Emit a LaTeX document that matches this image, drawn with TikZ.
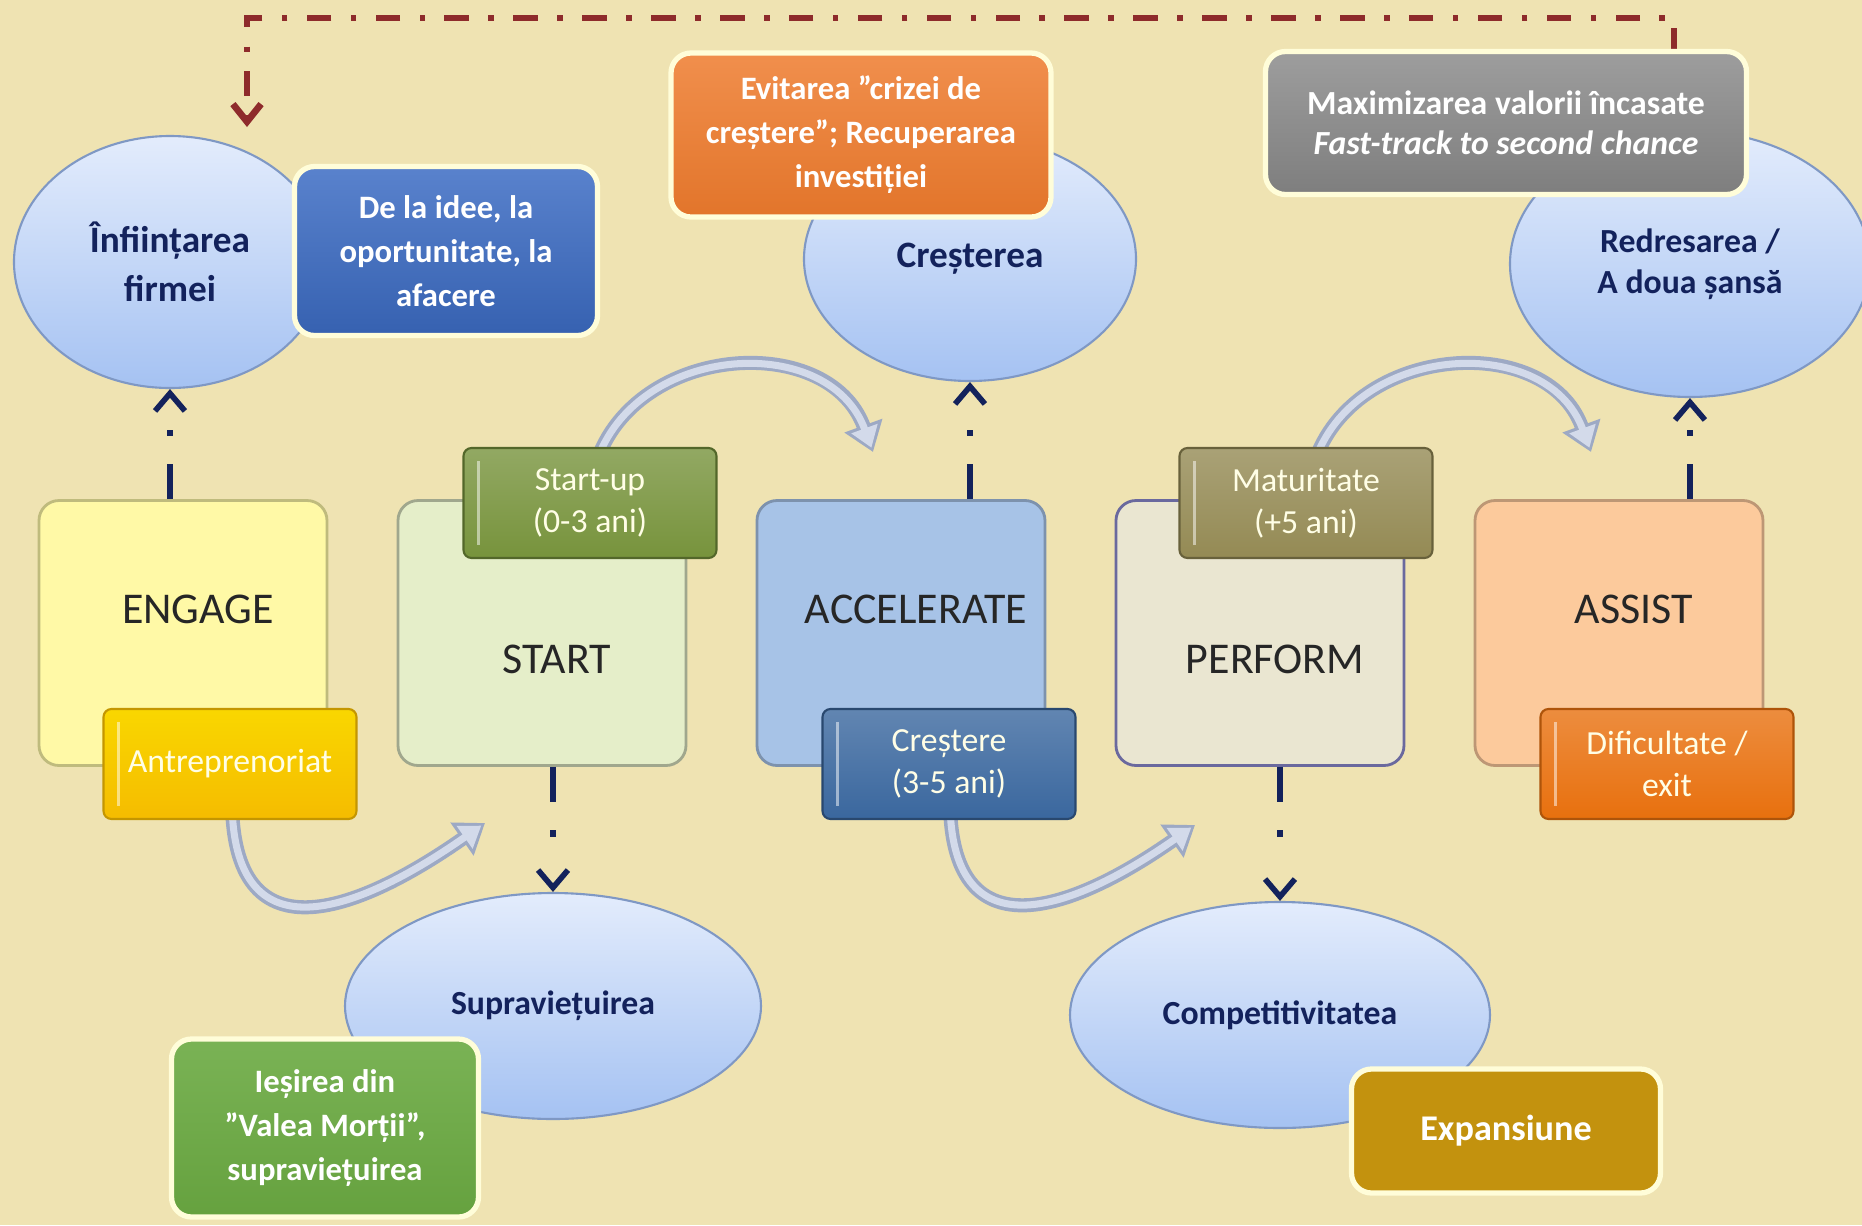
\documentclass[tikz,border=0pt]{standalone}
\usepackage{fontspec}
\setmainfont{Carlito}
\usetikzlibrary{shapes.geometric,arrows.meta,calc}

\definecolor{bgC}{HTML}{EFE3B2}
\definecolor{navyC}{HTML}{13225C}
\definecolor{backC}{HTML}{8E2B2B}
\definecolor{arcOut}{HTML}{9DA9C4}
\definecolor{arcIn}{HTML}{D3DAEA}
\definecolor{ellTop}{HTML}{E3ECFC}
\definecolor{ellBot}{HTML}{A5C2F2}
\definecolor{ellEdge}{HTML}{7F98C4}
\definecolor{engageC}{HTML}{FFF9A6}
\definecolor{startC}{HTML}{E5EEC9}
\definecolor{accelC}{HTML}{A7C3E7}
\definecolor{perfC}{HTML}{EAE6D1}
\definecolor{assistC}{HTML}{FCCA9C}
\definecolor{antrC}{HTML}{F5BC00}
\definecolor{startupC}{HTML}{77933C}
\definecolor{crestC}{HTML}{3A679E}
\definecolor{maturC}{HTML}{948A54}
\definecolor{dificC}{HTML}{E8700E}
\definecolor{ideaC}{HTML}{3C6CC4}
\definecolor{evitC}{HTML}{EE7B2D}
\definecolor{maximC}{HTML}{8C8C8C}
\definecolor{iesireC}{HTML}{6BAA42}
\definecolor{expansC}{HTML}{C3920E}

\tikzset{
  stage/.style={rounded corners=2mm, minimum width=28.8mm, minimum height=26.5mm, line width=0.8pt},
  stagetxt/.style={font=\fontsize{12.5}{15}\selectfont, text=black!85},
  tab/.style={rounded corners=0.8mm, minimum width=25.3mm, minimum height=11mm, align=center,
    text=white!90!yellow, font=\fontsize{9.6}{11.8}\selectfont, line width=0.6pt},
  goal/.style={ellipse, draw=ellEdge, line width=0.6pt, top color=ellTop, bottom color=ellBot,
    align=center, text=navyC, inner sep=0pt, font=\bfseries\fontsize{10.6}{14}\selectfont},
  small goal/.style={goal, font=\bfseries\fontsize{9.6}{11.8}\selectfont},
  note/.style={rounded corners=2mm, draw=white!85!yellow, line width=1.5pt, align=center,
    text=white, font=\bfseries\fontsize{9.3}{12.5}\selectfont},
  lifeline/.style={navyC, line width=1.6pt, dash pattern=on 10pt off 8pt on 1.8pt off 40pt,
    -{Straight Barb[length=5pt,width=8.5pt]}},
  backline/.style={backC, line width=1.9pt, dash pattern=on 7pt off 5.5pt on 1.6pt off 5.5pt,
    -{Straight Barb[length=5pt,width=8pt]}},
  flowout/.style={arcOut, line width=4pt, -{Triangle[length=8pt,width=11pt]}},
  flowin/.style={arcIn, line width=2pt, shorten >=1.3pt, -{Triangle[length=5.8pt,width=7.6pt]}}
}

\begin{document}
\begin{tikzpicture}[x=0.1mm,y=0.1mm]
\fill[bgC] (0,0) rectangle (1862,-1225);
\useasboundingbox (0,0) rectangle (1862,-1225);

\coordinate (back-start) at (1674,-53);
\coordinate (back-end) at (247,-127);
\draw[backline] (back-start) -- ++(0,35) -| (back-end);

\coordinate (flow1-a) at (232,-800);
\coordinate (flow1-b) at (485,-823);
\coordinate (flow2-a) at (594,-470);
\coordinate (flow2-b) at (873,-452);
\coordinate (flow3-a) at (950,-800);
\coordinate (flow3-b) at (1195,-825);
\coordinate (flow4-a) at (1312,-470);
\coordinate (flow4-b) at (1591,-452);
\foreach \k/\o/\i/\l in {1/-90/215/1.6, 2/75/110/1.2, 3/-90/215/1.6, 4/75/110/1.2} {
  \draw[flowout] (flow\k-a) to[out=\o, in=\i, looseness=\l] (flow\k-b);
  \draw[flowin] (flow\k-a) to[out=\o, in=\i, looseness=\l] (flow\k-b);
}

\node[stage, fill=engageC, draw=engageC!75!black] (engage) at (183,-633) {};
\node[stage, fill=startC, draw=startC!70!black] (start) at (542,-633) {};
\node[stage, fill=accelC, draw=accelC!75!black] (accel) at (901,-633) {};
\node[stage, fill=perfC, draw=perfC!65!blue!70!black] (perform) at (1260,-633) {};
\node[stage, fill=assistC, draw=assistC!75!black] (assist) at (1619,-633) {};
\foreach \n/\t/\dy in {engage/ENGAGE/24, start/START/-26, accel/ACCELERATE/24, perform/PERFORM/-26, assist/ASSIST/24}
  \node[stagetxt] (\n-txt) at ($(\n)+(15,\dy)$) {\t};

\node[tab, top color=antrC!60!yellow, bottom color=antrC, draw=antrC!80!black] (antr) at (230,-764) {Antreprenoriat};
\node[tab, top color=startupC!80!white, bottom color=startupC, draw=startupC!70!black] (startup) at (590,-503) {Start-up\\(0-3 ani)};
\node[tab, top color=crestC!80!white, bottom color=crestC, draw=crestC!70!black] (crestT) at (949,-764) {Creștere\\(3-5 ani)};
\node[tab, top color=maturC!80!white, bottom color=maturC, draw=maturC!70!black] (matur) at (1306,-503) {Maturitate\\(+5 ani)};
\node[tab, top color=dificC!80!white, bottom color=dificC, draw=dificC!75!black] (dific) at (1667,-764) {Dificultate /\\exit};
\foreach \t in {antr,startup,crestT,matur,dific}
  \draw[white, opacity=0.5, line width=0.8pt] ($(\t.north west)+(16,-14)$) -- ($(\t.south west)+(16,14)$);

\node[goal, minimum width=31.2mm, minimum height=25.2mm] (firm) at (170,-262) {Înființarea\\firmei};
\node[goal, minimum width=33.2mm, minimum height=24.4mm] (crestE) at (970,-259) {Creșterea};
\node[small goal, minimum width=36mm, minimum height=26.6mm] (redres) at (1690,-264) {Redresarea /\\A doua șansă};
\node[small goal, minimum width=41.6mm, minimum height=22.6mm] (surv) at (553,-1006) {Supraviețuirea};
\node[small goal, minimum width=42mm, minimum height=22.6mm] (compet) at (1280,-1015) {Competitivitatea};

\node[note, top color=ideaC!85!white, bottom color=ideaC!90!black, minimum width=30.3mm, minimum height=16.9mm] (idea) at (446,-251) {De la idee, la\\oportunitate, la\\afacere};
\node[note, top color=evitC!85!white, bottom color=evitC!95!black, minimum width=38mm, minimum height=16.4mm] (evit) at (861,-135) {Evitarea ”crizei de\\creștere”; Recuperarea\\investiției};
\node[note, top color=maximC!85!white, bottom color=maximC!90!black, minimum width=48.1mm, minimum height=14.3mm,
  font=\bfseries\fontsize{9.6}{11.4}\selectfont] (maxim) at (1506,-123) {Maximizarea valorii încasate\\\textit{Fast-track to second chance}};
\node[note, top color=iesireC!90!white, bottom color=iesireC!95!black, minimum width=30.7mm, minimum height=17.8mm] (iesire) at (325,-1128) {Ieșirea din\\”Valea Morții”,\\supraviețuirea};
\node[note, fill=expansC, minimum width=30.9mm, minimum height=12.4mm,
  font=\bfseries\fontsize{10.3}{12.5}\selectfont] (expans) at (1506,-1131) {Expansiune};

\draw[lifeline] (engage.north -| firm.south) -- (firm.south);
\draw[lifeline] (accel.north -| crestE.south) -- (crestE.south);
\draw[lifeline] (assist.north -| redres.south) -- (redres.south);
\draw[lifeline] (start.south -| surv.north) -- (surv.north);
\draw[lifeline] (perform.south -| compet.north) -- (compet.north);
\end{tikzpicture}
\end{document}
